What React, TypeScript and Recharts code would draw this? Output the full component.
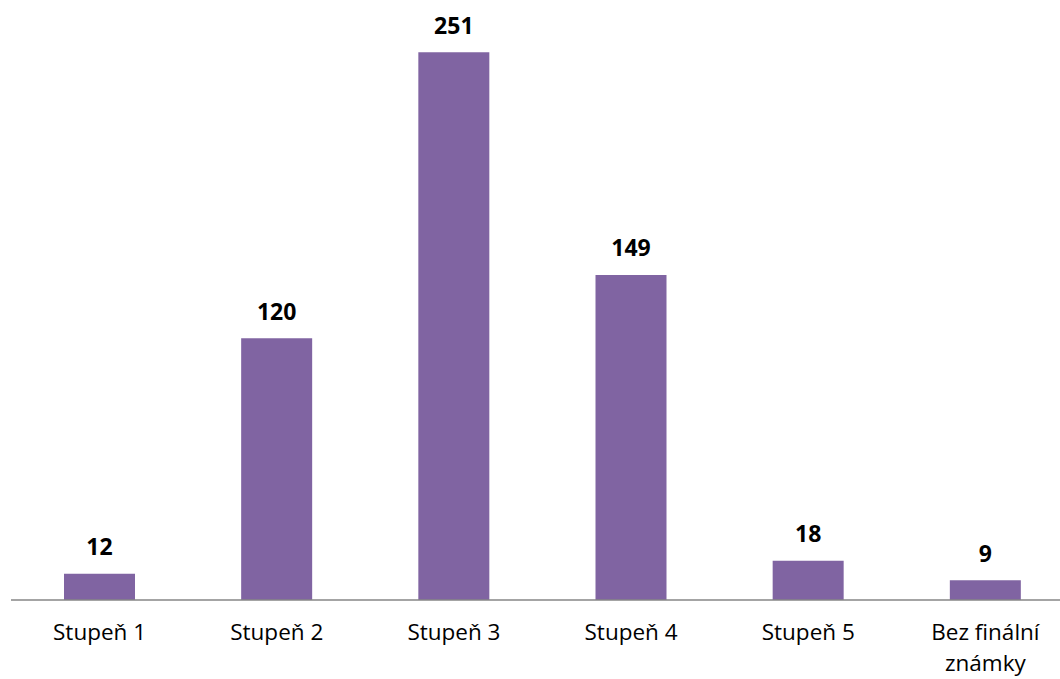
import { Bar, BarChart, LabelList, XAxis, YAxis } from "recharts"

const categories = ["Stupeň 1", "Stupeň 2", "Stupeň 3", "Stupeň 4", "Stupeň 5", "Bez finální známky"]
const counts = [12, 120, 251, 149, 18, 9]

const data = categories.map((name, i) => ({ name, value: counts[i] }))

const FONT = "'Open Sans', sans-serif"

const CategoryTick = (props: any) => {
    const { x, y, payload } = props
    const label: string = payload.value
    let lines = [label]
    if (label.length > 12) {
        const cut = label.lastIndexOf(" ")
        lines = [label.slice(0, cut), label.slice(cut + 1)]
    }
    return (
        <text x={x} y={y} textAnchor="middle" fill="#000" fontSize={22.5} fontFamily={FONT}>
            {lines.map((line, i) => (
                <tspan key={i} x={x} dy={i === 0 ? 32 : 31}>{line}</tspan>
            ))}
        </text>
    )
}

const App = () => {
    return (
        <div style={{ position: "absolute", left: 0, top: 0, width: 1060, height: 679, overflow: "hidden", background: "#fff" }}>
            <BarChart
                width={1080}
                height={679}
                data={data}
                margin={{ top: 0, right: 6, bottom: 0, left: 11 }}
            >
                <XAxis
                    dataKey="name"
                    height={79}
                    tickLine={false}
                    axisLine={{ stroke: "#868686", strokeWidth: 1.5 }}
                    tick={<CategoryTick />}
                    interval={0}
                />
                <YAxis hide domain={[0, 275]} />
                <Bar dataKey="value" fill="#8064A2" barSize={71} isAnimationActive={false}>
                    <LabelList
                        dataKey="value"
                        position="top"
                        offset={18.5}
                        fill="#000"
                        fontSize={23}
                        fontWeight="bold"
                        fontFamily={FONT}
                    />
                </Bar>
            </BarChart>
        </div>
    )
}

export default App
